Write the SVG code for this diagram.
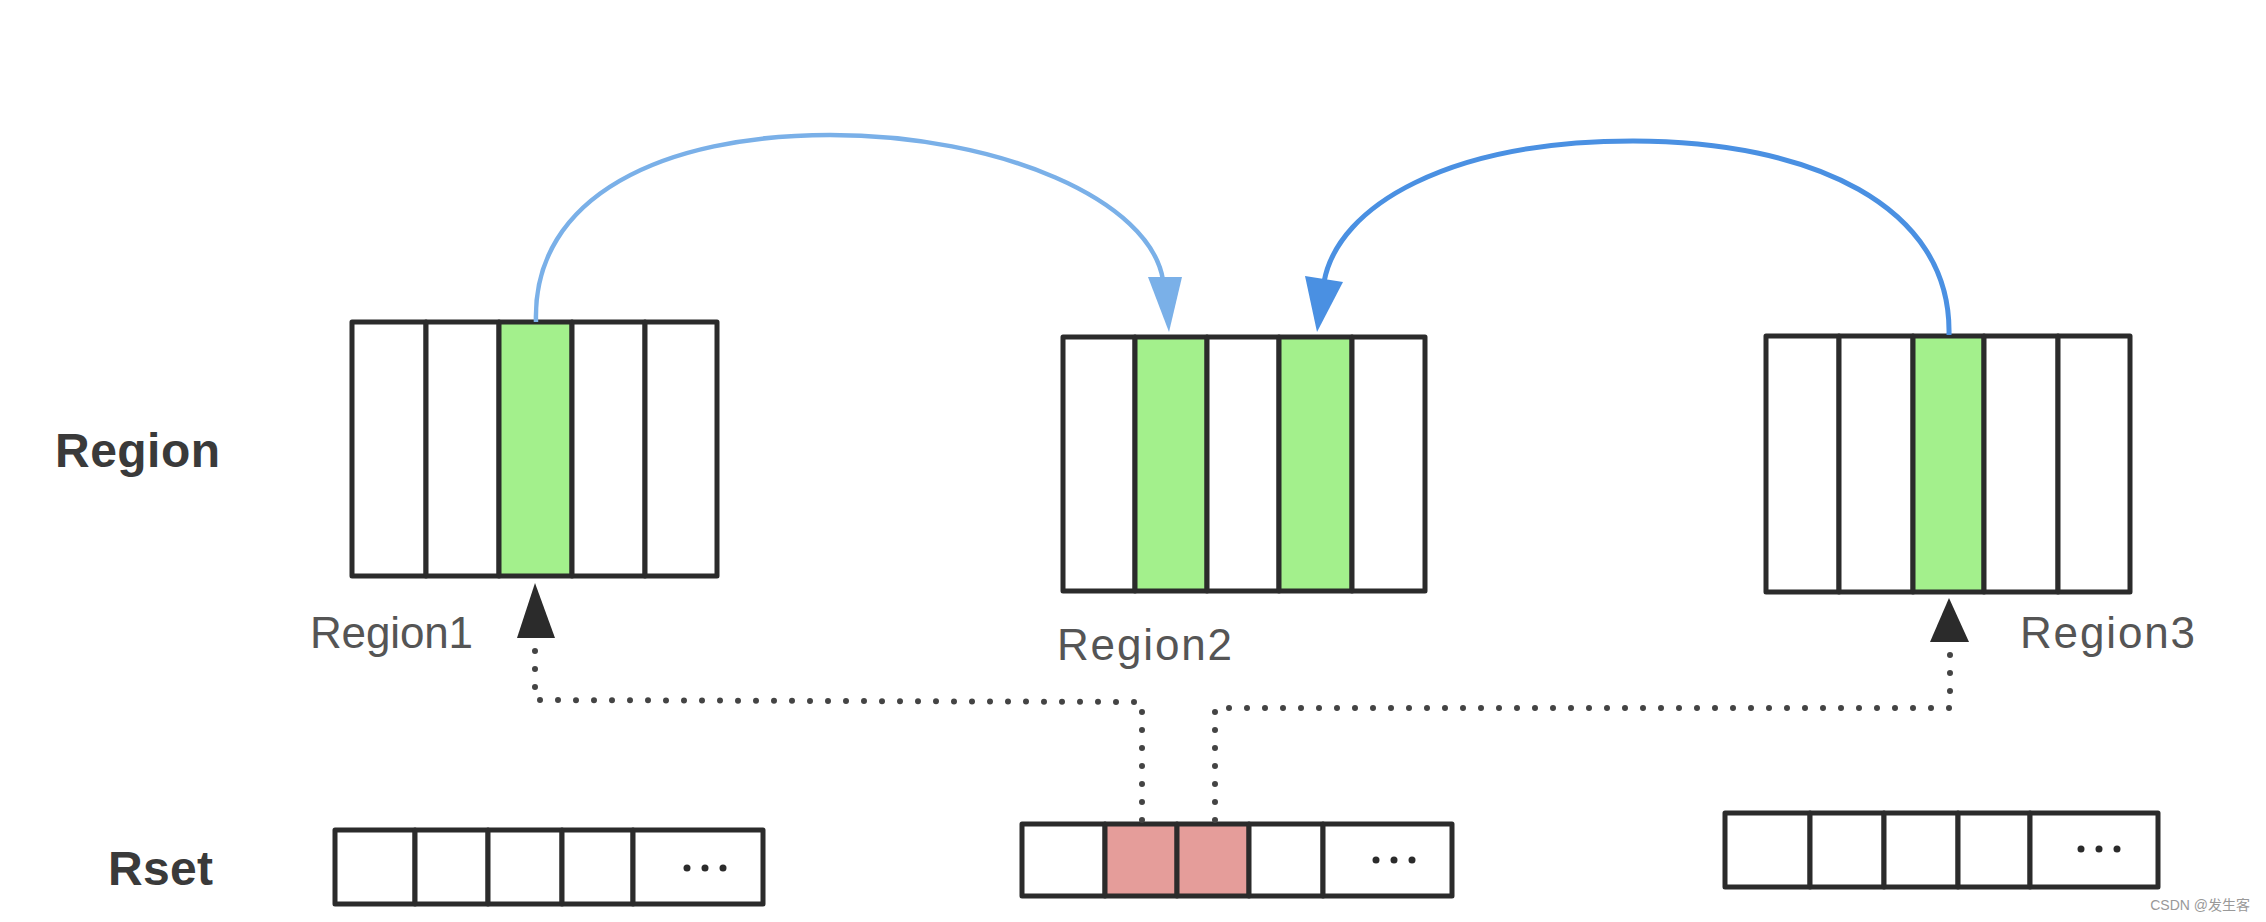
<svg xmlns="http://www.w3.org/2000/svg" width="2266" height="922" viewBox="0 0 2266 922">
<style>
.cell{fill:#ffffff;stroke:#2b2b2b;stroke-width:5;stroke-linejoin:round}
.g{fill:#a3f08c}
.p{fill:#e59d9a}
.lbl{font-family:"Liberation Sans",Arial,sans-serif;font-size:44px;fill:#555555}
.hdr{font-family:"Liberation Sans",Arial,sans-serif;font-size:48px;font-weight:bold;fill:#3a3a3a}
.dots{fill:#2b2b2b}
.dot{fill:none;stroke:#444444;stroke-width:6;stroke-dasharray:0 18;stroke-linecap:round}
</style>
<rect width="2266" height="922" fill="#ffffff"/>
<text class="hdr" x="55" y="467" textLength="165">Region</text>
<text class="hdr" x="108" y="885" textLength="105">Rset</text>

<g id="region1">
<rect class="cell" x="352" y="322" width="74" height="254"/>
<rect class="cell" x="426" y="322" width="73" height="254"/>
<rect class="cell g" x="499" y="322" width="73" height="254"/>
<rect class="cell" x="572" y="322" width="73" height="254"/>
<rect class="cell" x="645" y="322" width="72" height="254"/>
<text class="lbl" x="310" y="648" textLength="163">Region1</text>
</g>

<g id="region2">
<rect class="cell" x="1063" y="337" width="72" height="254"/>
<rect class="cell g" x="1135" y="337" width="72" height="254"/>
<rect class="cell" x="1207" y="337" width="72" height="254"/>
<rect class="cell g" x="1279" y="337" width="73" height="254"/>
<rect class="cell" x="1352" y="337" width="73" height="254"/>
<text class="lbl" x="1057" y="660" textLength="175">Region2</text>
</g>

<g id="region3">
<rect class="cell" x="1766" y="336" width="73" height="256"/>
<rect class="cell" x="1839" y="336" width="74" height="256"/>
<rect class="cell g" x="1913" y="336" width="71" height="256"/>
<rect class="cell" x="1984" y="336" width="74" height="256"/>
<rect class="cell" x="2058" y="336" width="72" height="256"/>
<text class="lbl" x="2020" y="648" textLength="175">Region3</text>
</g>

<g id="rset1">
<rect class="cell" x="335" y="830" width="80" height="74"/>
<rect class="cell" x="415" y="830" width="73" height="74"/>
<rect class="cell" x="488" y="830" width="74" height="74"/>
<rect class="cell" x="562" y="830" width="71" height="74"/>
<rect class="cell" x="633" y="830" width="130" height="74"/>
<circle class="dots" cx="687" cy="868" r="3.5"/><circle class="dots" cx="705" cy="868" r="3.5"/><circle class="dots" cx="723" cy="868" r="3.5"/>
</g>

<g id="rset2">
<rect class="cell" x="1022" y="824" width="83" height="72"/>
<rect class="cell p" x="1105" y="824" width="72" height="72"/>
<rect class="cell p" x="1177" y="824" width="72" height="72"/>
<rect class="cell" x="1249" y="824" width="74" height="72"/>
<rect class="cell" x="1323" y="824" width="129" height="72"/>
<circle class="dots" cx="1376" cy="860" r="3.5"/><circle class="dots" cx="1394" cy="860" r="3.5"/><circle class="dots" cx="1412" cy="860" r="3.5"/>
</g>

<g id="rset3">
<rect class="cell" x="1725" y="813" width="85" height="74"/>
<rect class="cell" x="1810" y="813" width="74" height="74"/>
<rect class="cell" x="1884" y="813" width="74" height="74"/>
<rect class="cell" x="1958" y="813" width="72" height="74"/>
<rect class="cell" x="2030" y="813" width="128" height="74"/>
<circle class="dots" cx="2081" cy="849" r="3.5"/><circle class="dots" cx="2099" cy="849" r="3.5"/><circle class="dots" cx="2117" cy="849" r="3.5"/>
</g>

<g id="connectors">
<path d="M536,322 C532,195 665,135 830,135 C1000,135 1150,200 1163,280" fill="none" stroke="#7ab0e8" stroke-width="4.5"/>
<polygon points="1169,332 1148,277 1182,277" fill="#7ab0e8"/>
<path d="M1949,335 C1952,205 1810,141 1633,141 C1450,141 1338,205 1324,282" fill="none" stroke="#4a90e2" stroke-width="5"/>
<polygon points="1317,332 1305,276 1343,282" fill="#4a90e2"/>
<path class="dot" d="M1142,820 L1142,702 L535,700 L535,640"/>
<polygon points="535,583 517,638 555,638" fill="#2b2b2b"/>
<path class="dot" d="M1215,820 L1215,708 L1950,708 L1950,645"/>
<polygon points="1949,598 1930,642 1969,642" fill="#2b2b2b"/>
</g>
<text x="2250" y="910" text-anchor="end" font-family="'Liberation Sans','Noto Sans CJK SC',sans-serif" font-size="14" fill="#999999">CSDN @发生客</text>
</svg>
